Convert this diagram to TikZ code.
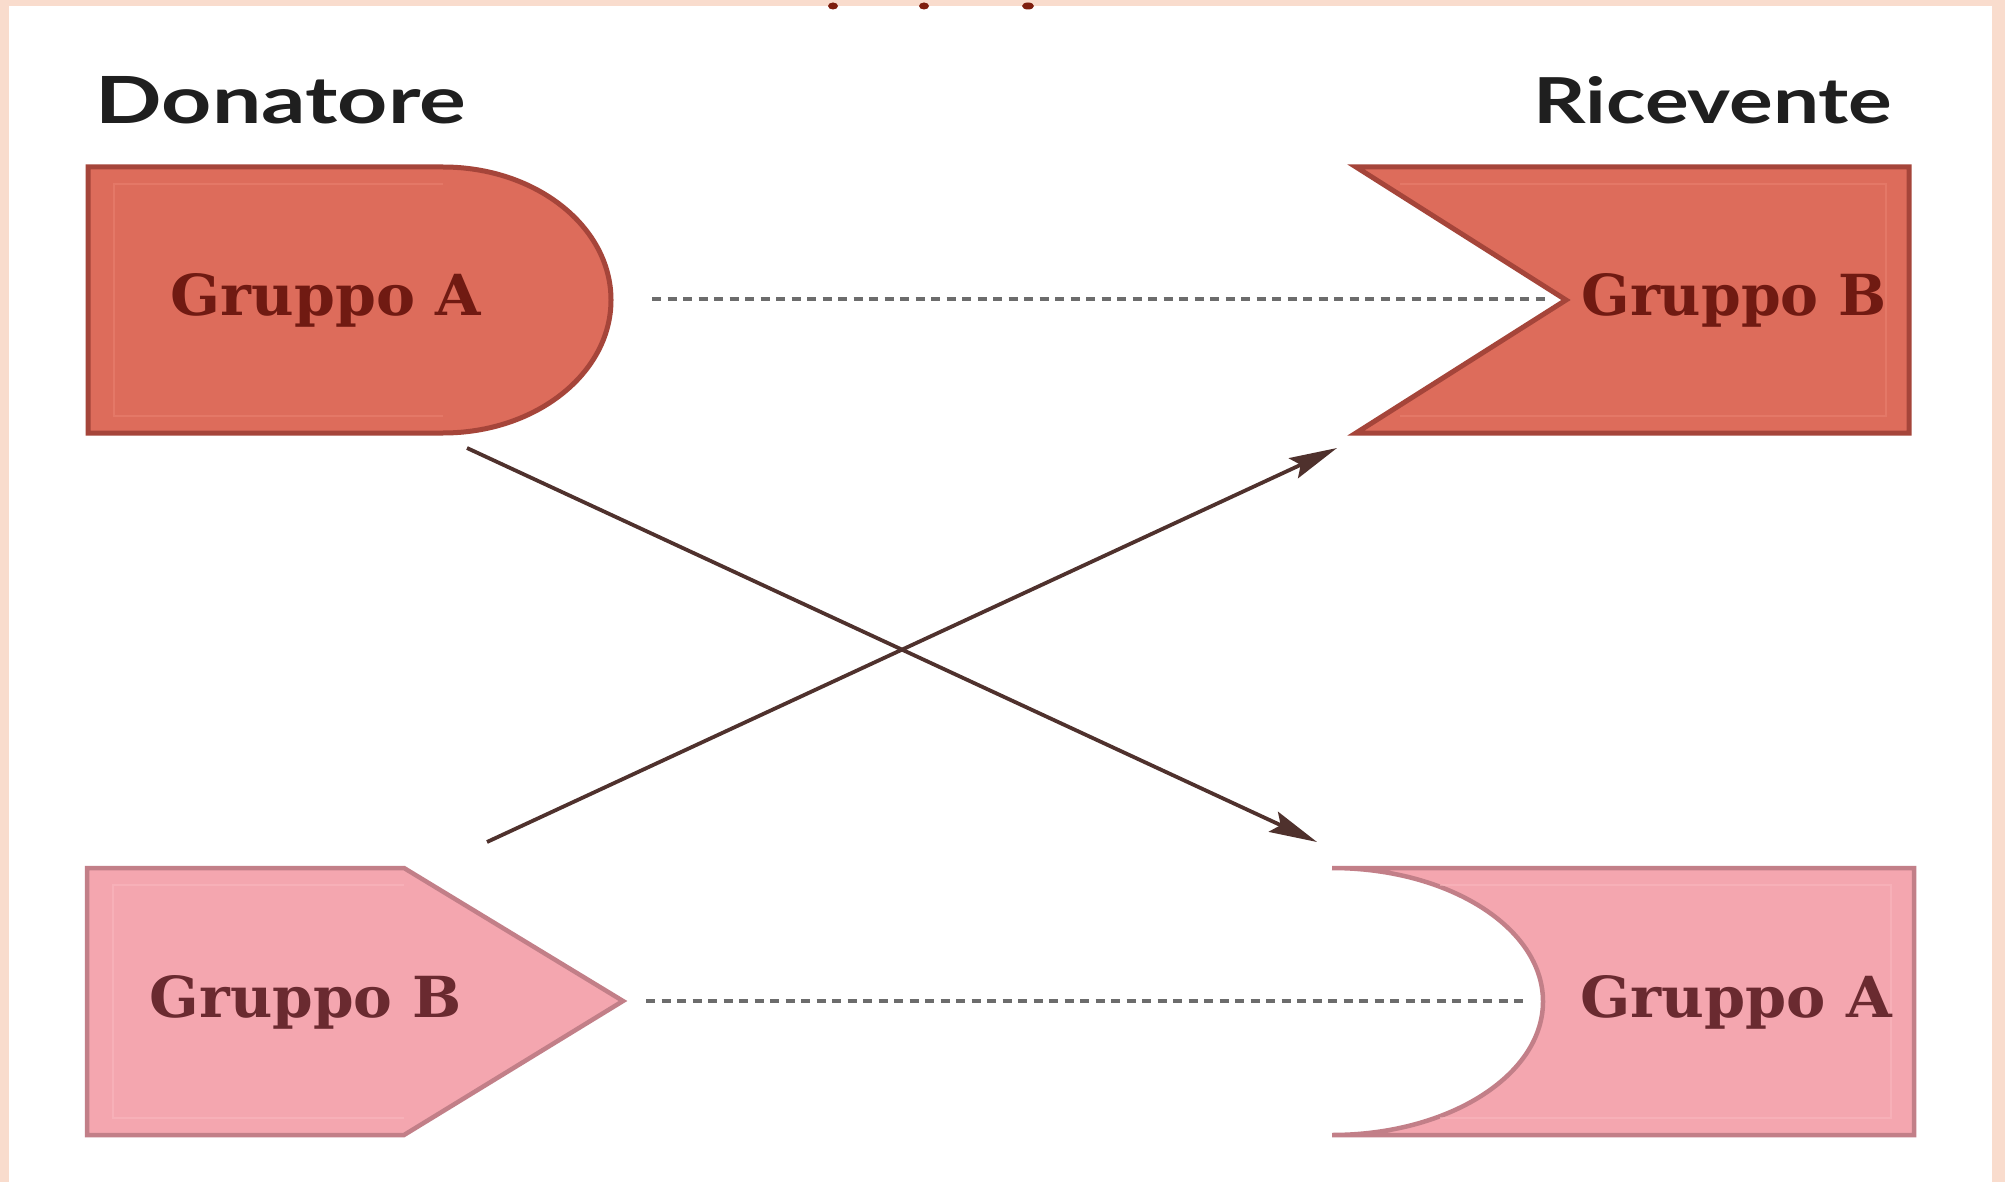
\documentclass[tikz,border=0pt]{standalone}
\usepackage{graphicx}
\usepackage{fontspec}
\setmainfont{DejaVu Serif}
\newfontfamily\headfont{Lato}
\usetikzlibrary{arrows.meta}

\definecolor{framepeach}{HTML}{F9DCCD}
\definecolor{coral}{HTML}{DD6C5B}
\definecolor{coraledge}{HTML}{A5453A}
\definecolor{coralin}{HTML}{E98070}
\definecolor{rose}{HTML}{F4A6AF}
\definecolor{roseedge}{HTML}{C27F88}
\definecolor{rosein}{HTML}{F9B8BE}
\definecolor{darkred}{HTML}{701A12}
\definecolor{wine}{HTML}{6A2A30}
\definecolor{arrowbrown}{HTML}{4F312D}
\definecolor{dotgrey}{HTML}{6C6C6C}
\definecolor{cutred}{HTML}{7E1E0E}

\begin{document}
\begin{tikzpicture}[x=1pt,y=-1pt,
  donorshape/.style={fill=coral,draw=coraledge,line width=5pt,line join=miter},
  recvshape/.style={fill=rose,draw=roseedge,line width=4.5pt,line join=miter},
  innerA/.style={draw=coralin,line width=2.5pt,opacity=0.6},
  innerB/.style={draw=rosein,line width=2.5pt,opacity=0.6},
  grp/.style={inner sep=0pt,anchor=base,font=\bfseries},
  head/.style={inner sep=0pt,anchor=base,text=black!88,font=\headfont\bfseries},
  dotline/.style={draw=dotgrey,line width=3.5pt,dash pattern=on 9pt off 6.5pt},
  swap/.style={draw=arrowbrown,line width=3.8pt,
    -{Stealth[length=48pt,width=22pt,inset=8pt]}}
]
% frame and canvas
\useasboundingbox (0,0) rectangle (2005,1182);
\fill[framepeach] (0,0) rectangle (2005,1182);
\fill[white] (9,6) rectangle (1992,1182);

% clipped marks along the top edge
\fill[cutred] (833,6) ellipse [x radius=5, y radius=3.5];
\fill[cutred] (924,6) ellipse [x radius=5, y radius=3.5];
\fill[cutred] (1028,6) ellipse [x radius=6, y radius=3.5];

% column headings
\node[head] (don) at (281,124) {\resizebox{370pt}{47pt}{Donatore}};
\node[head] (ric) at (1713,124) {\resizebox{359pt}{47pt}{Ricevente}};

% donor, group A: rounded plug
\path[donorshape] (88,167) -- (443,167)
  arc[start angle=-90,end angle=90,x radius=168,y radius=133]
  -- (88,433) -- cycle;
\draw[innerA] (443,184) -- (114,184) -- (114,416) -- (443,416);

% recipient, group B: V notch
\path[donorshape] (1356,167) -- (1909,167) -- (1909,433) -- (1356,433)
  -- (1566,300) -- cycle;
\draw[innerA] (1400,184) -- (1886,184) -- (1886,416) -- (1400,416);

% donor, group B: pointed plug
\path[recvshape] (87,868) -- (404,868) -- (623,1001) -- (404,1135)
  -- (87,1135) -- cycle;
\draw[innerB] (404,885) -- (113,885) -- (113,1118) -- (404,1118);

% recipient, group A: round socket
\path[recvshape] (1914,868) -- (1332,868)
  arc[start angle=-90,end angle=90,x radius=211,y radius=133.5]
  -- (1914,1135) -- cycle;
\draw[innerB] (1440,885) -- (1891,885) -- (1891,1118) -- (1440,1118);

% group labels
\node[grp,text=darkred] (dA) at (326,315) {\resizebox{310pt}{42pt}{Gruppo A}};
\node[grp,text=darkred] (rB) at (1734,315) {\resizebox{305pt}{42pt}{Gruppo B}};
\node[grp,text=wine] (dB) at (306,1017) {\resizebox{312pt}{42pt}{Gruppo B}};
\node[grp,text=wine] (rA) at (1736,1017) {\resizebox{312pt}{42pt}{Gruppo A}};

% compatible pairs (dotted)
\coordinate (dAtip) at (652,299);
\coordinate (rBnotch) at (1545,299);
\coordinate (dBtip) at (646,1001);
\coordinate (rAcup) at (1525,1001);
\draw[dotline] (dAtip) -- (rBnotch);
\draw[dotline] (dBtip) -- (rAcup);

% crossed transfers
\coordinate (dAout) at (467,448);
\coordinate (rAin) at (1317,842);
\coordinate (dBout) at (487,842);
\coordinate (rBin) at (1337,448);
\draw[swap] (dAout) -- (rAin);
\draw[swap] (dBout) -- (rBin);
\end{tikzpicture}
\end{document}
